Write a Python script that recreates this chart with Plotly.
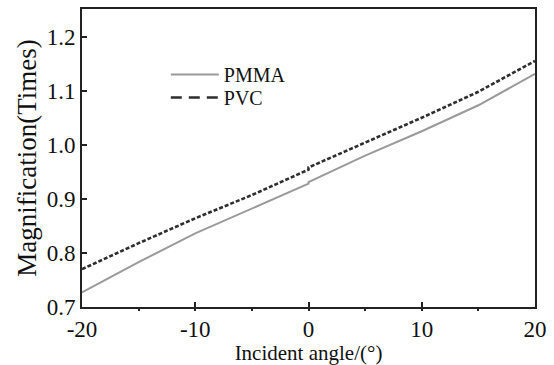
import plotly.graph_objects as go

angle = [-20, -15, -10, -5, 0, 0, 5, 10, 15, 20]
pmma = [0.727, 0.783, 0.836, 0.882, 0.928, 0.931, 0.980, 1.025, 1.073, 1.131]
pvc = [0.770, 0.818, 0.864, 0.907, 0.954, 0.958, 1.004, 1.050, 1.098, 1.155]

x_ticks = [-20, -10, 0, 10, 20]
y_ticks = [0.7, 0.8, 0.9, 1.0, 1.1, 1.2]

font_family = "Liberation Serif, Times New Roman, serif"

fig = go.Figure()
fig.add_trace(go.Scatter(x=angle, y=pmma, mode="lines", name="PMMA",
                         line=dict(color="#9a9a9a", width=2),
                         showlegend=False))
fig.add_trace(go.Scatter(x=angle, y=pvc, mode="lines", name="PVC",
                         line=dict(color="#2e2e2e", width=2.6, dash="4px,2px"),
                         showlegend=False))
# legend entries
fig.add_trace(go.Scatter(x=[None], y=[None], mode="lines", name="PMMA",
                         line=dict(color="#9a9a9a", width=2), legend="legend"))
fig.add_trace(go.Scatter(x=[None], y=[None], mode="lines", name="PVC",
                         line=dict(color="#2e2e2e", width=2.6, dash="11px,7px"), legend="legend2"))

axis_common = dict(showline=True, linecolor="#222222", linewidth=2, mirror=True,
                   showgrid=False, zeroline=False, ticks="inside", ticklen=5,
                   tickwidth=1.5, tickcolor="#222222",
                   tickfont=dict(family=font_family, size=23, color="#111111"))

leg_common = dict(xanchor="left", yanchor="middle", bgcolor="rgba(0,0,0,0)",
                  font=dict(family=font_family, size=20, color="#111111"),
                  itemwidth=48)

fig.update_layout(
    width=554, height=365,
    margin=dict(l=82, r=18, t=7, b=57),
    paper_bgcolor="white", plot_bgcolor="white",
    font=dict(family=font_family, color="#111111"),
    xaxis=dict(range=[-20, 20], tickvals=x_ticks, ticktext=[str(v) for v in x_ticks],
               minor=dict(dtick=5, ticks="outside", ticklen=2, tickcolor="#222222"),
               title=dict(text="Incident angle/(°)", font=dict(family=font_family, size=21), standoff=2),
               **axis_common),
    yaxis=dict(range=[0.7, 1.251], tickvals=y_ticks, ticktext=[f"{v:.1f}" for v in y_ticks],
               title=dict(text="Magnification(Times)", font=dict(family=font_family, size=27), standoff=2),
               **axis_common),
    legend=dict(x=0.185, y=0.78, **leg_common),
    legend2=dict(x=0.185, y=0.703, **leg_common),
)

fig.write_html("out.html")
